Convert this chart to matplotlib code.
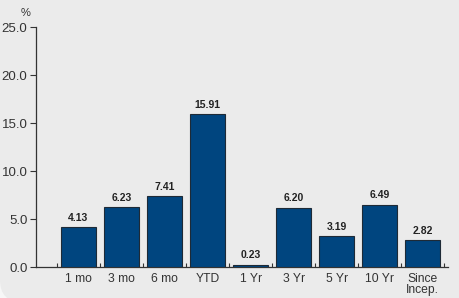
import numpy as np
import matplotlib.pyplot as plt
from matplotlib.patches import FancyBboxPatch
from matplotlib.transforms import IdentityTransform

periods = ['1 mo', '3 mo', '6 mo', 'YTD', '1 Yr', '3 Yr', '5 Yr', '10 Yr', 'Since\nIncep.']
returns = [4.13, 6.23, 7.41, 15.91, 0.23, 6.20, 3.19, 6.49, 2.82]
yticks = [0, 5, 10, 15, 20, 25]

plt.rcParams['font.family'] = ['Liberation Sans', 'DejaVu Sans']

fig = plt.figure(figsize=(4.6, 2.98), dpi=100, facecolor='#f7f7f7')
# grey panel with a rounded bottom-left corner (pixel coords)
bg = FancyBboxPatch((0, -4), 900, 900, boxstyle='round,pad=0,rounding_size=22',
                    transform=IdentityTransform(), facecolor='#ebebeb', edgecolor='none',
                    zorder=-10)
fig.patches.append(bg)

ax = fig.add_axes([0.078, 0.104, 0.896, 0.805])
ax.set_facecolor('none')

x = np.arange(len(periods))
ax.bar(x, returns, width=0.81, color='#00457f', edgecolor='#1e2a36', linewidth=0.8, zorder=3)

for xi, v in zip(x, returns):
    ax.text(xi, v + 0.45, '%.2f' % v, ha='center', va='bottom', fontsize=7.5,
            fontweight='bold', color='#222222')

ax.set_xlim(-0.99, 8.59)
ax.set_ylim(0, 25)
ax.set_yticks(yticks)
ax.set_yticklabels(['%.1f' % t for t in yticks], fontsize=9.5, color='#333333')
ax.set_xticks(x)
ax.set_xticklabels(periods, fontsize=8.7, color='#333333', linespacing=0.95)
ax.set_xticks(np.arange(-0.5, len(periods)), minor=True)
ax.tick_params(axis='x', which='major', length=0, pad=4)
ax.tick_params(axis='x', which='minor', direction='in', length=3, width=0.8, color='#333333')
ax.tick_params(axis='y', direction='out', length=4, width=0.8, color='#333333', pad=2)

for s in ['top', 'right']:
    ax.spines[s].set_visible(False)
for s in ['left', 'bottom']:
    ax.spines[s].set_color('#333333')
    ax.spines[s].set_linewidth(0.9)

fig.text(0.055, 0.955, '%', fontsize=8, color='#333333', ha='center', va='center')

fig.savefig('out.png', dpi=100, facecolor=fig.get_facecolor())
